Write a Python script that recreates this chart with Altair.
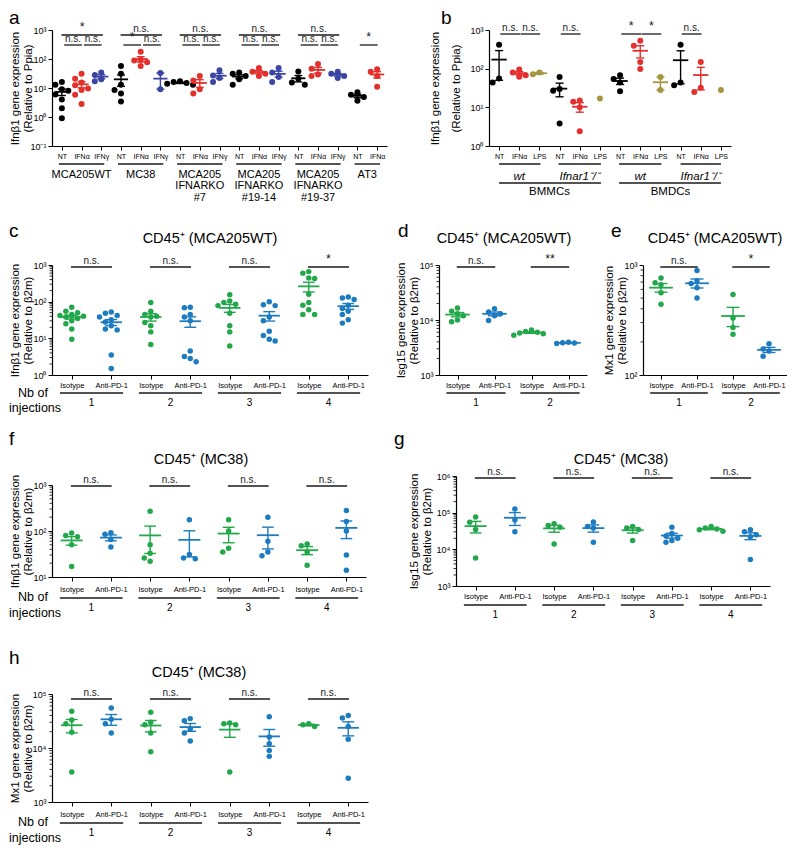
import math
import json
import altair as alt
import pandas as pd

FONT = "Liberation Sans"
INK = "#1a1a1a"

# ------------------------------------------------------------------ data
# panel a
a_labels = ["NT", "IFNα", "IFNγ", "NT", "IFNα", "IFNγ", "NT", "IFNα", "IFNγ",
            "NT", "IFNα", "IFNγ", "NT", "IFNα", "IFNγ", "NT", "IFNα"]
a_groups = ["MCA205WT", "MC38", "MCA205\nIFNARKO\n#7", "MCA205\nIFNARKO\n#19-14",
            "MCA205\nIFNARKO\n#19-37", "AT3"]
a_group_sizes = [3, 3, 3, 3, 3, 2]
a_values = [
    [16, 13, 9, 8, 6, 4, 2, 0.9],
    [31, 21, 15.5, 12.5, 9.6, 8.5, 5.8, 2.8],
    [34, 28, 20, 17],
    [57, 31, 13, 8.5, 6.5, 3.4],
    [178, 95, 89, 78, 57],
    [33, 9.1],
    [17, 16, 15, 14, 13],
    [26, 18, 9.1, 6.5],
    [41, 27, 22, 16],
    [34, 31, 26, 20, 13],
    [49, 36, 31, 26],
    [49, 34, 24, 16],
    [37, 21, 15.5, 13],
    [67, 46, 29, 26],
    [36, 31, 26, 22],
    [7.1, 5.8, 4.9, 3.6],
    [44, 36, 26, 11],
]
a_colors = {"NT": "#000000", "IFNα": "#E3302D", "IFNγ": "#3B45A3"}
a_sig = [(0, 2, 1, "*"), (0, 1, 0, "n.s."), (1, 2, 0, "n.s."),
         (3, 5, 1, "n.s."), (3, 4, 0, "*"), (4, 5, 0, "n.s."),
         (6, 8, 1, "n.s."), (6, 7, 0, "n.s."), (7, 8, 0, "n.s."),
         (9, 11, 1, "n.s."), (9, 10, 0, "n.s."), (10, 11, 0, "n.s."),
         (12, 14, 1, "n.s."), (12, 13, 0, "n.s."), (13, 14, 0, "n.s."),
         (15, 16, 0, "*")]

# panel b
b_labels = ["NT", "IFNα", "LPS"] * 4
b_values = [
    [415, 56, 44], [95, 80, 68, 62], [80, 72],
    [61, 30, 27, 3.8], [15, 14, 10, 2.4], [17],
    [68, 54, 44, 26], [525, 390, 148, 98], [61, 28],
    [415, 44, 37], [148, 32, 25], [28],
]
b_colors = {"NT": "#000000", "IFNα": "#E3302D", "LPS": "#A69540"}
b_genotypes = ["wt", "Ifnar1⁻/⁻", "wt", "Ifnar1⁻/⁻"]
b_cells = ["BMMCs", "BMDCs"]
b_sig = [(0, 1, 0, "n.s."), (1, 2, 0, "n.s."), (3, 4, 0, "n.s."),
         (6, 7, 0, "*"), (7, 8, 0, "*"), (9, 10, 0, "n.s.")]

# panels c-h
pd1_labels4 = ["Isotype", "Anti-PD-1"] * 4
pd1_labels2 = ["Isotype", "Anti-PD-1"] * 2
inj4 = ["1", "2", "3", "4"]
inj2 = ["1", "2"]
pd1_colors = {"Isotype": "#22A84A", "Anti-PD-1": "#1D7BC0"}

c_values = [
    [70, 55, 50, 45, 42, 40, 38, 35, 30, 25, 18, 9.5],
    [52, 48, 42, 38, 32, 28, 22, 18, 17, 3.5, 1.5],
    [95, 55, 45, 40, 38, 27, 22, 15, 6.8],
    [70, 68, 45, 38, 30, 4.5, 3.2, 2.8, 2.3],
    [155, 105, 95, 85, 78, 48, 22, 15, 6.2],
    [100, 82, 78, 38, 30, 15.5, 12, 9.5, 8.5],
    [660, 600, 440, 430, 160, 95, 80, 60, 45, 45],
    [135, 125, 115, 80, 65, 55, 45, 32, 26],
]
c_sig = [(0, 1, 0, "n.s."), (2, 3, 0, "n.s."), (4, 5, 0, "n.s."), (6, 7, 0, "*")]

d_values = [
    [16500, 14500, 13000, 12000, 10000, 9300],
    [16000, 14000, 13000, 12000, 9800],
    [6600, 6200, 6000, 5800, 5600, 5300],
    [3950, 3850, 3800, 3750],
]
d_sig = [(0, 1, 0, "n.s."), (2, 3, 0, "**")]

e_values = [
    [760, 690, 660, 560, 440],
    [890, 720, 680, 620, 500],
    [540, 330, 270, 235],
    [192, 172, 165, 148],
]
e_sig = [(0, 1, 0, "n.s."), (2, 3, 0, "*")]

f_values = [
    [90, 80, 75, 50, 17],
    [92, 85, 65, 45],
    [270, 50, 33, 26, 22],
    [175, 31, 26, 25],
    [175, 100, 42, 35],
    [200, 60, 35, 29],
    [52, 48, 35, 18],
    [280, 160, 100, 30, 14],
]
g_values = [
    [76000, 55000, 35000, 5800],
    [125000, 63000, 30000],
    [50000, 45000, 40000, 14000],
    [56000, 42000, 38000, 15500],
    [42000, 38000, 35000, 17500],
    [40000, 27000, 23000, 20000, 17500, 15500],
    [42000, 38000, 36000, 34000, 31000],
    [34000, 30000, 25000, 22000, 5300],
]
h_values = [
    [48000, 33000, 28000, 19500, 3600],
    [55000, 34000, 28000, 19000],
    [46000, 30000, 27000, 19000, 8500],
    [35000, 32000, 22500, 19000, 13500],
    [29000, 28000, 27000, 3600],
    [38000, 16000, 12000, 9000, 7000],
    [28000, 27000, 25000],
    [40000, 36000, 25000, 14500, 2750],
]
ns4_sig = [(0, 1, 0, "n.s."), (2, 3, 0, "n.s."), (4, 5, 0, "n.s."), (6, 7, 0, "n.s.")]

# ------------------------------------------------------------------ helpers
YLABEL = "'10' + ['⁻¹','⁰','¹','²','³','⁴','⁵','⁶'][round(log(datum.value)/LN10)+1]"
TITLE_FS = 14.5
LETTER_FS = 19


def swarm_offsets(vals, ppd, band_px, diam):
    order = sorted(range(len(vals)), key=lambda k: -vals[k])
    placed = []
    offs = [0.0] * len(vals)
    for k in order:
        yy = math.log10(vals[k]) * ppd
        chosen = 0.0
        for cand in (0, -1, 1, -2, 2, -3, 3, -4, 4):
            xx = cand * diam * 0.95
            if all((xx - px) ** 2 + (yy - py) ** 2 >= (diam * 0.9) ** 2 for px, py in placed):
                chosen = xx
                break
        placed.append((chosen, yy))
        offs[k] = chosen / band_px
    return offs


def free_text(t, x, y, size, align="center", baseline="middle", style="normal"):
    return alt.Chart(pd.DataFrame({"t": [t]})).mark_text(
        font=FONT, fontSize=size, align=align, baseline=baseline, fontStyle=style, color="black"
    ).encode(text="t:N", x=alt.value(x), y=alt.value(y))


def spacer(w):
    return alt.Chart(pd.DataFrame({"z": [0]})).mark_point(opacity=0, size=1).encode(
        x=alt.value(0), y=alt.value(20)).properties(width=w, height=40)


def make_panel(sp):
    labels, values = sp["labels"], sp["values"]
    W, H = sp["W"], sp["H"]
    lo, hi = sp["exp"]
    n = len(labels)
    band = W / n
    ppd = H / (hi - lo)
    xs = alt.Scale(domain=[-0.5, n - 0.5], nice=False, zero=False)
    ys = alt.Scale(type="log", domain=[10.0 ** lo, 10.0 ** hi], nice=False)
    xaxis = alt.Axis(values=list(range(n)),
                     labelExpr=json.dumps(labels, ensure_ascii=False) + "[datum.value]",
                     title=None, grid=False, labelAngle=0, labelFontSize=sp.get("xls", 7.5),
                     labelFont=FONT, labelColor="black", labelPadding=sp.get("xlp", 2),
                     tickSize=4, tickColor="black", domainColor="black", tickWidth=1,
                     domainWidth=1.2, labelOverlap=False, labelFlush=False, labelBound=False)
    yaxis = alt.Axis(values=[10.0 ** k for k in range(lo, hi + 1)], labelExpr=YLABEL,
                     title=sp["ytitle"], titleX=sp["tx"], titleY=H / 2, titleAngle=270,
                     titleAlign="center", titleBaseline="top", titleFont=FONT,
                     titleFontSize=11.5, titleFontWeight="normal", titleLineHeight=sp["tlh"],
                     titleColor="black", grid=False, tickSize=4, tickColor="black",
                     tickWidth=1, domainColor="black", domainWidth=1.2, labelFont=FONT,
                     labelFontSize=9, labelColor="black", labelPadding=2)

    def X(f):
        return alt.X(f, scale=xs, axis=xaxis)

    def Y(f):
        return alt.Y(f, scale=ys, axis=yaxis)

    C = alt.Color("col:N", scale=None)

    rows = []
    for i, vals in enumerate(values):
        offs = swarm_offsets(vals, ppd, band, sp["diam"])
        for v, o in zip(vals, offs):
            rows.append({"idx": i, "v": v, "xj": i + o, "col": sp["cmap"][labels[i]]})
    df = pd.DataFrame(rows)

    layers = []
    if sp.get("minor"):
        mv = [m * 10.0 ** k for k in range(lo, hi) for m in range(2, 10)]
        layers.append(alt.Chart(pd.DataFrame({"mv": mv})).mark_rule(color="black", strokeWidth=0.8)
                      .encode(y=Y("mv:Q"), x=alt.value(0), x2=alt.value(-2.5)))

    layers.append(alt.Chart(df).mark_circle(size=sp["dot"], opacity=1)
                  .encode(x=X("xj:Q"), y=Y("v:Q"), color=C))

    hw, cw = sp["hw"], sp["cw"]
    st = (alt.Chart(df)
          .transform_aggregate(m="mean(v)", s="stderr(v)", n="count()", groupby=["idx", "col"])
          .transform_filter("datum.n > 1")
          .transform_calculate(xl=f"datum.idx - {hw}", xr=f"datum.idx + {hw}",
                               cl=f"datum.idx - {cw}", cr=f"datum.idx + {cw}",
                               elo=f"max(datum.m - datum.s, {10.0 ** lo})",
                               ehi="datum.m + datum.s"))
    layers += [
        st.mark_rule(strokeWidth=1.4).encode(x=X("idx:Q"), y=Y("elo:Q"), y2="ehi:Q", color=C),
        st.mark_rule(strokeWidth=1.4).encode(x=X("cl:Q"), x2="cr:Q", y=Y("ehi:Q"), color=C),
        st.mark_rule(strokeWidth=1.4).encode(x=X("cl:Q"), x2="cr:Q", y=Y("elo:Q"), color=C),
        st.mark_rule(strokeWidth=1.8).encode(x=X("xl:Q"), x2="xr:Q", y=Y("m:Q"), color=C),
    ]

    # significance bars
    srows = []
    for (i, j, lvl, lab) in sp["sig"]:
        x1, x2 = sp["sigx"](i, j, lvl)
        yv = 10 ** (hi - sp["sig_off"][lvl] / ppd)
        srows.append({"x1": x1, "x2": x2, "xm": (x1 + x2) / 2, "y": yv, "lab": lab,
                      "fs": 12.5 if "*" in lab else 10})
    dsig = pd.DataFrame(srows)
    layers.append(alt.Chart(dsig).mark_rule(color=INK, strokeWidth=1.3)
                  .encode(x=X("x1:Q"), x2="x2:Q", y=Y("y:Q")))
    layers.append(alt.Chart(dsig).mark_text(font=FONT, baseline="bottom", dy=-1, color=INK)
                  .encode(x=X("xm:Q"), y=Y("y:Q"), text="lab:N", size=alt.Size("fs:Q", scale=None)))

    # annotation below the axis
    for item in sp["below"]:
        if item[0] == "rule":
            _, pairs, yo = item
            d = pd.DataFrame(pairs, columns=["x1", "x2"])
            layers.append(alt.Chart(d).mark_rule(color=INK, strokeWidth=1.4)
                          .encode(x=X("x1:Q"), x2="x2:Q", y=alt.value(H + yo)))
        else:
            _, pairs, yo, size, style, baseline = item
            d = pd.DataFrame(pairs, columns=["x", "t"])
            layers.append(alt.Chart(d).mark_text(font=FONT, fontSize=size, fontStyle=style,
                                                 baseline=baseline, lineBreak="\n",
                                                 lineHeight=size * 1.05, color="black")
                          .encode(x=X("x:Q"), y=alt.value(H + yo), text="t:N"))
    for (t, x, y, size, align, baseline) in sp["free"]:
        layers.append(free_text(t, x, y, size, align, baseline))
    return alt.layer(*layers).properties(width=W, height=H)


def pd1_below(ngroups, inj, lab_y=18, num_y=28):
    pairs = [(2 * g - 0.3, 2 * g + 1.3) for g in range(ngroups)]
    nums = [(2 * g + 0.5, inj[g]) for g in range(ngroups)]
    return [("rule", pairs, lab_y), ("text", nums, num_y, 10, "normal", "middle")]


def sig_center(i, j, lvl):
    return (i - 0.02, j + 0.02)


# ------------------------------------------------------------------ panel specs
a_starts = [sum(a_group_sizes[:k]) for k in range(len(a_group_sizes))]
a_under = [(s - 0.15, s + z - 1 + 0.15) for s, z in zip(a_starts, a_group_sizes)]
a_gtext = [(s + (z - 1) / 2, g) for s, z, g in zip(a_starts, a_group_sizes, a_groups)]

A = dict(labels=a_labels, values=a_values, cmap=a_colors, W=335, H=116, exp=(-1, 3),
         dot=36, diam=6.8, hw=0.36, cw=0.2, tx=-43, tlh=13, xls=7,
         ytitle=["Ifnβ1 gene expression", "(Relative to Ppia)"],
         sig=a_sig, sig_off={0: 15, 1: 5},
         sigx=lambda i, j, l: (i - 0.02, j + 0.08) if l == 1 else (i + 0.12, j + 0.02),
         below=[("rule", a_under, 18), ("text", a_gtext, 22.5, 11, "normal", "top")],
         free=[("a", -43, -21, LETTER_FS, "left", "top")])

B = dict(labels=b_labels, values=b_values, cmap=b_colors, W=242, H=116, exp=(0, 3),
         dot=36, diam=6.8, hw=0.38, cw=0.2, tx=-60, tlh=21, xls=7,
         ytitle=["Ifnβ1 gene expression", "(Relative to Ppia)"],
         sig=b_sig, sig_off={0: 4},
         sigx=lambda i, j, l: (i + 0.06, j + 0.04),
         below=[("rule", [(0, 2.05), (2.95, 5.05), (5.95, 8.05), (9, 11)], 18),
                ("text", [(1, b_genotypes[0]), (4, b_genotypes[1]), (7, b_genotypes[2]),
                          (10, b_genotypes[3])], 31, 11.5, "italic", "middle"),
                ("rule", [(0, 5.05), (5.95, 11)], 37),
                ("text", [(2.5, b_cells[0]), (8.5, b_cells[1])], 46, 11.5, "normal", "middle")],
         free=[("b", -48, -21, LETTER_FS, "left", "top")])

C_ = dict(labels=pd1_labels4, values=c_values, cmap=pd1_colors, W=316, H=110, exp=(0, 3),
          dot=30, diam=6.2, hw=0.27, cw=0.15, tx=-43, tlh=13.5, minor=True,
          ytitle=["Ifnβ1 gene expression", "(Relative to β2m)"],
          sig=c_sig, sig_off={0: 2}, sigx=sig_center,
          below=pd1_below(4, inj4),
          free=[("c", -43, -43, LETTER_FS, "left", "top"),
                ("CD45⁺ (MCA205WT)", 316 / 2, -26, TITLE_FS, "center", "middle"),
                ("Nb of", -19, 110 + 18, 12.5, "center", "middle"),
                ("injections", -17, 110 + 33, 12.5, "center", "middle")])

D = dict(labels=pd1_labels2, values=d_values, cmap=pd1_colors, W=148, H=110, exp=(3, 5),
         dot=30, diam=6.2, hw=0.33, cw=0.18, tx=-44, tlh=13, minor=True,
         ytitle=["Isg15 gene expression", "(Relative to β2m)"],
         sig=d_sig, sig_off={0: 2}, sigx=sig_center,
         below=pd1_below(2, inj2),
         free=[("d", -41, -43, LETTER_FS, "left", "top"),
               ("CD45⁺ (MCA205WT)", 148 / 2 - 9, -26, TITLE_FS, "center", "middle")])

E = dict(labels=pd1_labels2, values=e_values, cmap=pd1_colors, W=144, H=110, exp=(2, 3),
         dot=30, diam=6.2, hw=0.33, cw=0.18, tx=-40, tlh=13, minor=True,
         ytitle=["Mx1 gene expression", "(Relative to β2m)"],
         sig=e_sig, sig_off={0: 2}, sigx=sig_center,
         below=pd1_below(2, inj2),
         free=[("e", -32, -43, LETTER_FS, "left", "top"),
               ("CD45⁺ (MCA205WT)", 144 / 2, -26, TITLE_FS, "center", "middle")])

F = dict(labels=pd1_labels4, values=f_values, cmap=pd1_colors, W=314, H=92, exp=(1, 3),
         dot=30, diam=6.2, hw=0.28, cw=0.15, tx=-43, tlh=13.5, minor=True,
         ytitle=["Ifnβ1 gene expression", "(Relative to β2m)"],
         sig=ns4_sig, sig_off={0: 1}, sigx=sig_center,
         below=pd1_below(4, inj4, lab_y=21, num_y=31),
         free=[("f", -43, -55, LETTER_FS, "left", "top"),
               ("CD45⁺ (MC38)", 314 / 2 - 8, -25, TITLE_FS, "center", "middle"),
               ("Nb of", -19, 92 + 20, 12.5, "center", "middle"),
               ("injections", -17, 92 + 36, 12.5, "center", "middle")],
         xlp=4)

G = dict(labels=pd1_labels4, values=g_values, cmap=pd1_colors, W=314, H=110, exp=(3, 6),
         dot=30, diam=6.2, hw=0.28, cw=0.15, tx=-48, tlh=13, minor=True,
         ytitle=["Isg15 gene expression", "(Relative to β2m)"],
         sig=ns4_sig, sig_off={0: 2}, sigx=sig_center,
         below=pd1_below(4, inj4, lab_y=19, num_y=29),
         free=[("g", -62, -46, LETTER_FS, "left", "top"),
               ("CD45⁺ (MC38)", 314 / 2 + 8, -16, TITLE_FS, "center", "middle")])

Hh = dict(labels=pd1_labels4, values=h_values, cmap=pd1_colors, W=316, H=108, exp=(3, 5),
          dot=30, diam=6.2, hw=0.27, cw=0.15, tx=-43, tlh=13.5, minor=True,
          ytitle=["Mx1 gene expression", "(Relative to β2m)"],
          sig=ns4_sig, sig_off={0: 5}, sigx=sig_center,
          below=pd1_below(4, inj4, lab_y=21, num_y=31),
          free=[("h", -43, -45, LETTER_FS, "left", "top"),
                ("CD45⁺ (MC38)", 316 / 2 - 11, -21, TITLE_FS, "center", "middle"),
                ("Nb of", -19, 108 + 20, 12.5, "center", "middle"),
                ("injections", -17, 108 + 36, 12.5, "center", "middle")],
          xlp=4)

pa, pb = make_panel(A), make_panel(B)
pc, pdd, pe = make_panel(C_), make_panel(D), make_panel(E)
pf, pg = make_panel(F), make_panel(G)
ph = make_panel(Hh)

row1 = alt.hconcat(pa, pb, spacing=102, bounds="flush")
row2 = alt.hconcat(pc, spacer(71), pdd, spacer(56), pe, spacing=0, bounds="flush")
row3 = alt.hconcat(pf, pg, spacing=90, bounds="flush", center=True)
top = alt.vconcat(alt.vconcat(row1, row2, spacing=19),
                  alt.vconcat(row3, ph, spacing=29),
                  spacing=15)

chart = (top.properties(padding={"left": 0, "top": 1, "right": 0, "bottom": 0})
         .configure_view(stroke=None)
         .configure_axis(grid=False)
         .configure_text(font=FONT))

chart.save("out.html", embed_options={"renderer": "svg", "actions": False})
